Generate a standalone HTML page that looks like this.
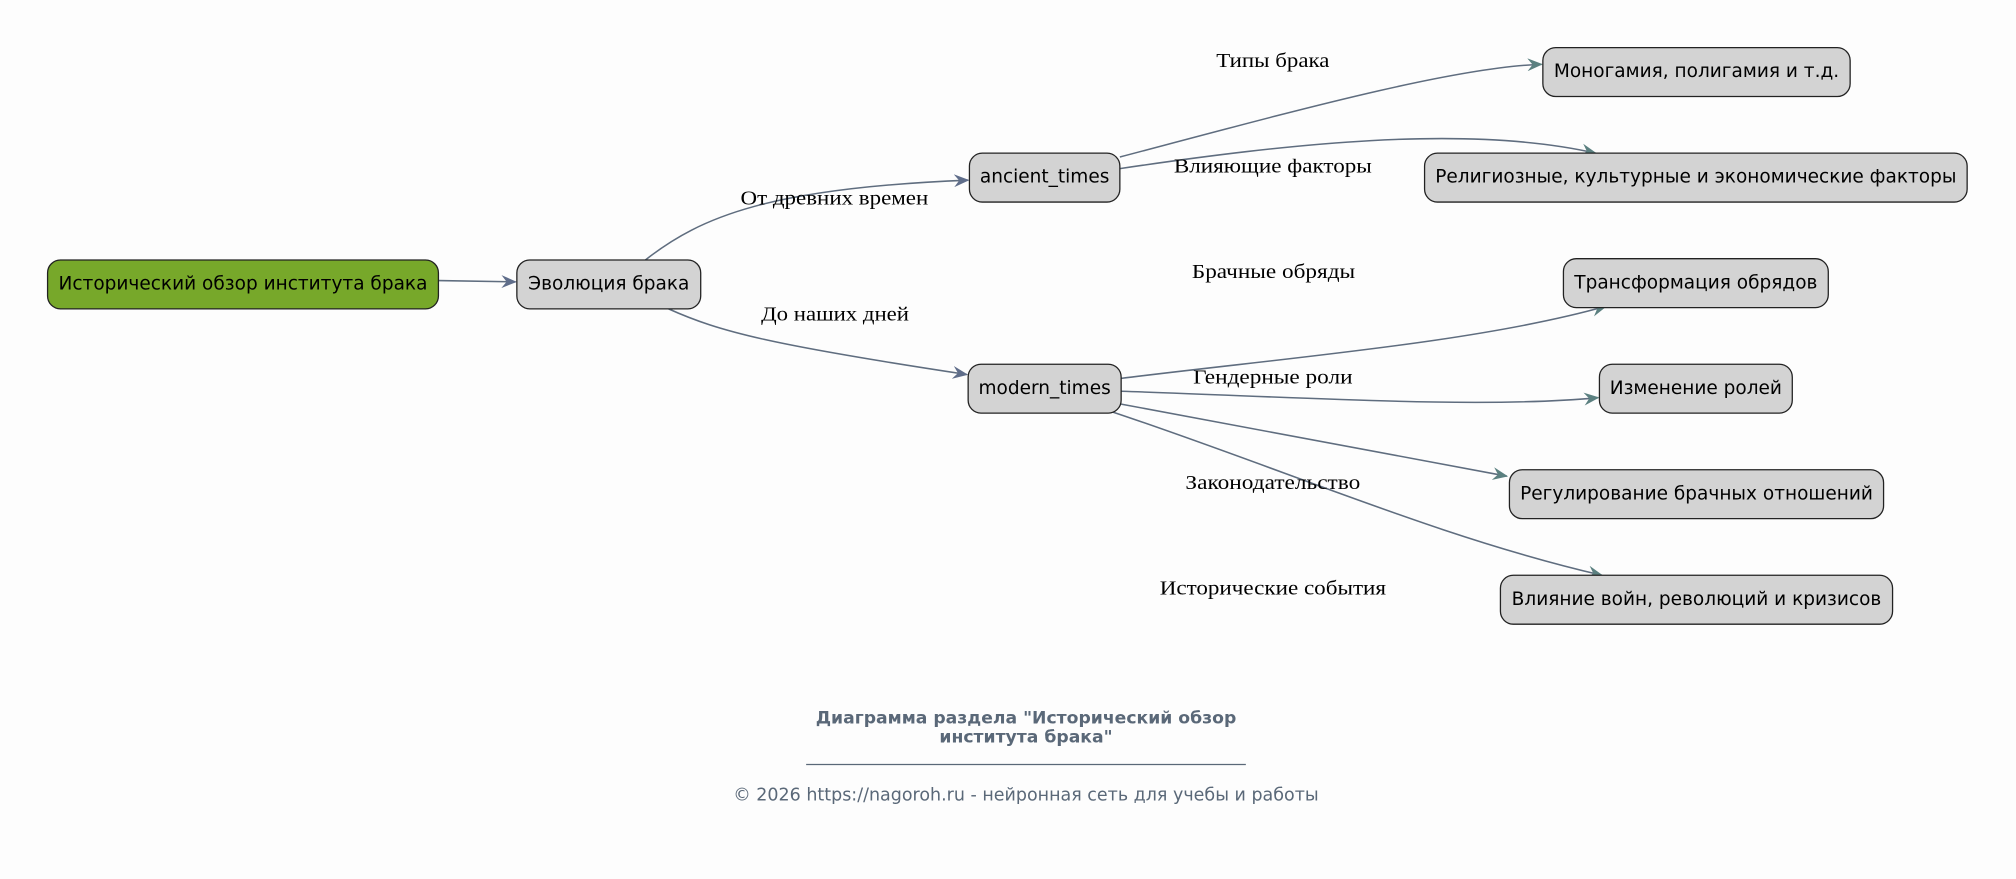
<!DOCTYPE html>
<html><head><meta charset="utf-8"><style>html,body{margin:0;padding:0;background:#fdfdfd;}svg{display:block}</style></head>
<body>
<svg width="2016" height="879" viewBox="0 0 1568 683" preserveAspectRatio="none" xmlns="http://www.w3.org/2000/svg">
<defs>
<marker id="a" viewBox="0 0 12 10" refX="11" refY="5" markerWidth="12" markerHeight="10" markerUnits="userSpaceOnUse" orient="auto">
<path d="M0,0 L12,5 L0,10 L4,5 Z" fill="#5f6d8a"/>
</marker>
<marker id="b" viewBox="0 0 12 10" refX="11" refY="5" markerWidth="12" markerHeight="10" markerUnits="userSpaceOnUse" orient="auto">
<path d="M0,0 L12,5 L0,10 L4,5 Z" fill="#5b8080"/>
</marker>
</defs>
<rect width="1568" height="683" fill="#fdfdfd"/>
<g fill="none" stroke="#5f6d7f" stroke-width="1.2">
<path d="M341,218 L401,219" marker-end="url(#a)"/>
<path d="M502,202 C545,168 600,146 753,140" marker-end="url(#a)"/>
<path d="M520,240 C560,258 600,268 752,291" marker-end="url(#a)"/>
<path d="M871,122 C1000,88 1130,52 1199,50" marker-end="url(#b)"/>
<path d="M871,131 C1000,112 1140,96 1241,119" marker-end="url(#b)"/>
<path d="M872,294 C1000,278 1150,266 1249,238" marker-end="url(#b)"/>
<path d="M872,304 C1000,308 1150,318 1243,309" marker-end="url(#b)"/>
<path d="M872,314 L1172,370" marker-end="url(#b)"/>
<path d="M865,320 C1000,365 1120,418 1246,447" marker-end="url(#b)"/>
</g>
<g stroke="#222" stroke-width="1">
<rect x="37" y="202" width="304" height="38" rx="10" fill="#77a82a"/>
<rect x="402" y="202" width="143" height="38" rx="10" fill="#d3d3d3"/>
<rect x="754" y="119" width="117" height="38" rx="10" fill="#d3d3d3"/>
<rect x="753" y="283" width="119" height="38" rx="10" fill="#d3d3d3"/>
<rect x="1200" y="37" width="239" height="38" rx="10" fill="#d3d3d3"/>
<rect x="1108" y="119" width="422" height="38" rx="10" fill="#d3d3d3"/>
<rect x="1216" y="201" width="206" height="38" rx="10" fill="#d3d3d3"/>
<rect x="1244" y="283" width="150" height="38" rx="10" fill="#d3d3d3"/>
<rect x="1174" y="365" width="291" height="38" rx="10" fill="#d3d3d3"/>
<rect x="1167" y="447" width="305" height="38" rx="10" fill="#d3d3d3"/>
</g>
<g font-family="'DejaVu Sans','Liberation Sans',sans-serif" font-size="14.4" fill="#000" text-anchor="middle">
<text x="189" y="225">Исторический обзор института брака</text>
<text x="473.5" y="225">Эволюция брака</text>
<text x="812.5" y="142">ancient_times</text>
<text x="812.5" y="306">modern_times</text>
<text x="1319.5" y="60">Моногамия, полигамия и т.д.</text>
<text x="1319" y="142">Религиозные, культурные и экономические факторы</text>
<text x="1319" y="224">Трансформация обрядов</text>
<text x="1319" y="306">Изменение ролей</text>
<text x="1319.5" y="388">Регулирование брачных отношений</text>
<text x="1319.5" y="470">Влияние войн, революций и кризисов</text>
</g>
<g font-family="'Liberation Serif','DejaVu Serif',serif" font-size="15.5" fill="#000" lengthAdjust="spacingAndGlyphs">
<text x="946" y="52" textLength="88" lengthAdjust="spacingAndGlyphs">Типы брака</text>
<text x="913" y="134" textLength="154" lengthAdjust="spacingAndGlyphs">Влияющие факторы</text>
<text x="927" y="216" textLength="127" lengthAdjust="spacingAndGlyphs">Брачные обряды</text>
<text x="928" y="298" textLength="124" lengthAdjust="spacingAndGlyphs">Гендерные роли</text>
<text x="922" y="380" textLength="136" lengthAdjust="spacingAndGlyphs">Законодательство</text>
<text x="902" y="462" textLength="176" lengthAdjust="spacingAndGlyphs">Исторические события</text>
<text x="576" y="159" textLength="146" lengthAdjust="spacingAndGlyphs">От древних времен</text>
<text x="592" y="249" textLength="115" lengthAdjust="spacingAndGlyphs">До наших дней</text>
</g>
<g font-family="'DejaVu Sans','Liberation Sans',sans-serif" fill="#5a6878" text-anchor="middle">
<text x="798" y="562" font-size="13.4" font-weight="bold">Диаграмма раздела "Исторический обзор</text>
<text x="798" y="577" font-size="13.4" font-weight="bold">института брака"</text>
<line x1="627" y1="594" x2="969" y2="594" stroke="#5a6878" stroke-width="1"/>
<text x="798" y="622" font-size="13.6">© 2026 https://nagoroh.ru - нейронная сеть для учебы и работы</text>
</g>
</svg>
</body></html>
